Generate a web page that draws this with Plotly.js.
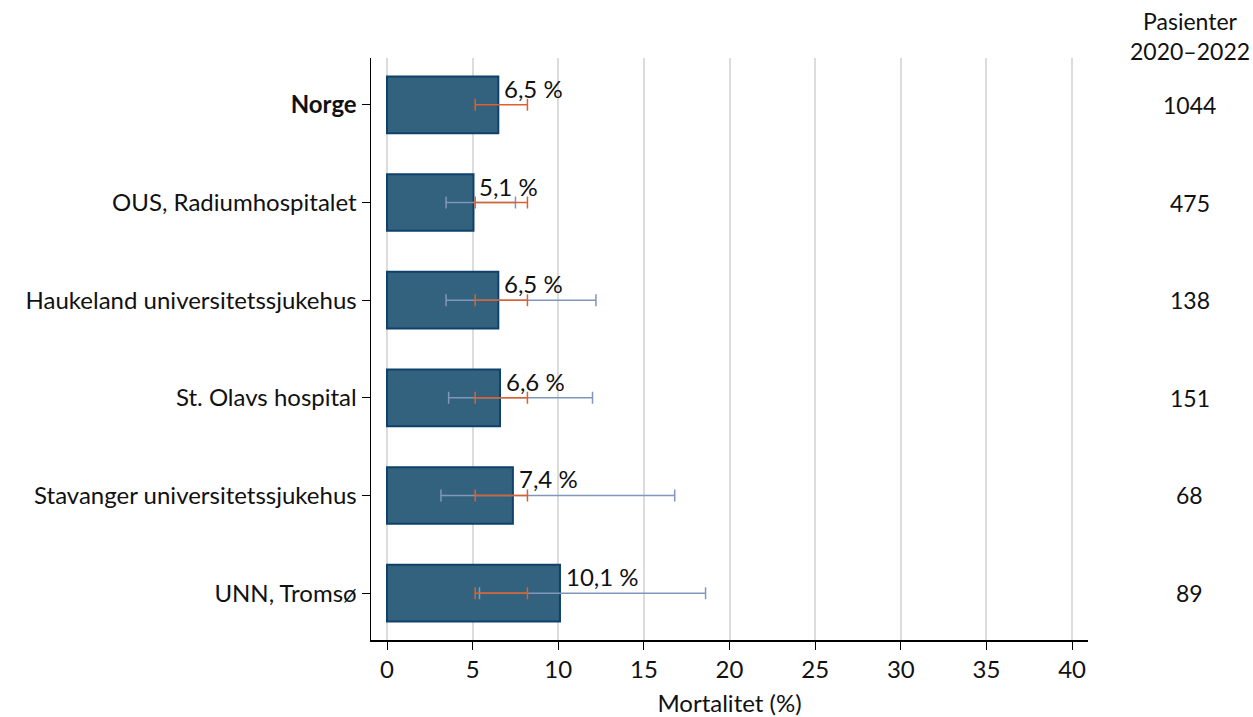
<!DOCTYPE html>
<html><head><meta charset="utf-8">
<script src="https://cdn.plot.ly/plotly-3.0.1.min.js"></script>
<style>html,body{margin:0;padding:0;background:#fff}</style>
</head><body><div id="chart" style="width:1253px;height:717px"></div>
<script>
const categories = ["Norge","OUS, Radiumhospitalet","Haukeland universitetssjukehus","St. Olavs hospital","Stavanger universitetssjukehus","UNN, Tromsø"];
const mortality = [6.5, 5.05, 6.5, 6.6, 7.35, 10.1];
const labels = ["6,5 %","5,1 %","6,5 %","6,6 %","7,4 %","10,1 %"];
const ciLow = [null, 3.45, 3.45, 3.6, 3.15, 5.4];
const ciHigh = [null, 7.5, 12.2, 12.0, 16.8, 18.6];
const natValue = 6.5, natLow = 5.15, natHigh = 8.2;
const patients = ["1044","475","138","151","68","89"];
const xTicks = [0,5,10,15,20,25,30,35,40];

const idx = categories.map((c,i)=>i);
const FONT = "Lato, 'Open Sans', sans-serif";

const bars = {
  type:'bar', orientation:'h', x:mortality, y:idx, width:0.58,
  marker:{color:'#33627f', line:{color:'#0f416c', width:2}},
  hoverinfo:'skip', showlegend:false
};
const hospCI = {
  type:'scatter', mode:'markers', x:mortality.map((v,i)=>ciLow[i]===null?null:v), y:idx,
  marker:{opacity:0, size:1},
  error_x:{type:'data', symmetric:false,
    array:mortality.map((v,i)=>ciHigh[i]===null?0:ciHigh[i]-v),
    arrayminus:mortality.map((v,i)=>ciLow[i]===null?0:v-ciLow[i]),
    color:'#8196bb', thickness:1.5, width:6},
  hoverinfo:'skip', showlegend:false
};
const natCI = {
  type:'scatter', mode:'markers', x:idx.map(()=>natValue), y:idx,
  marker:{opacity:0, size:1},
  error_x:{type:'data', symmetric:false,
    array:idx.map(()=>natHigh-natValue), arrayminus:idx.map(()=>natValue-natLow),
    color:'#e0602a', thickness:1.5, width:6},
  hoverinfo:'skip', showlegend:false
};

const annotations = [];
idx.forEach(i=>{
  annotations.push({x:mortality[i], y:i, xref:'x', yref:'y', text:labels[i], showarrow:false,
    xanchor:'left', yanchor:'bottom', xshift:4, yshift:0, font:{family:FONT, size:24, color:'#111'}});
  annotations.push({x:1.142, y:i, xref:'paper', yref:'y', text:patients[i], showarrow:false,
    xanchor:'center', yanchor:'middle', font:{family:FONT, size:23, color:'#111'}});
});
annotations.push({x:1.142, y:1, xref:'paper', yref:'paper', yshift:53, text:'Pasienter<br>2020–2022', showarrow:false,
  xanchor:'center', yanchor:'top', align:'center', font:{family:FONT, size:23, color:'#111'}});

const layout = {
  width:1253, height:717,
  margin:{l:371, r:165, t:58, b:77},
  paper_bgcolor:'#fff', plot_bgcolor:'#fff',
  font:{family:FONT, size:24, color:'#111'},
  xaxis:{range:[-0.934, 40.93], tickvals:xTicks, ticktext:xTicks.map(String),
    showgrid:true, gridcolor:'#dcdcdc', gridwidth:2, zeroline:false,
    showline:true, linecolor:'#000', linewidth:1.5, ticks:'outside', ticklen:8, tickcolor:'#000',
    title:{text:'Mortalitet (%)', font:{family:FONT, size:24}, standoff:15},
    tickfont:{family:FONT, size:24}},
  yaxis:{range:[5.48,-0.48], tickvals:idx, ticktext:categories.map((c,i)=>i===0?'<b>'+c+'</b>':c),
    showgrid:false, zeroline:false, showline:true, linecolor:'#000', linewidth:1.5,
    ticks:'outside', ticklen:8, tickcolor:'#000', tickfont:{family:FONT, size:24}},
  annotations:annotations,
  bargap:0.42
};
Plotly.newPlot('chart',[bars,hospCI,natCI],layout,{displayModeBar:false, staticPlot:true});
</script></body></html>
